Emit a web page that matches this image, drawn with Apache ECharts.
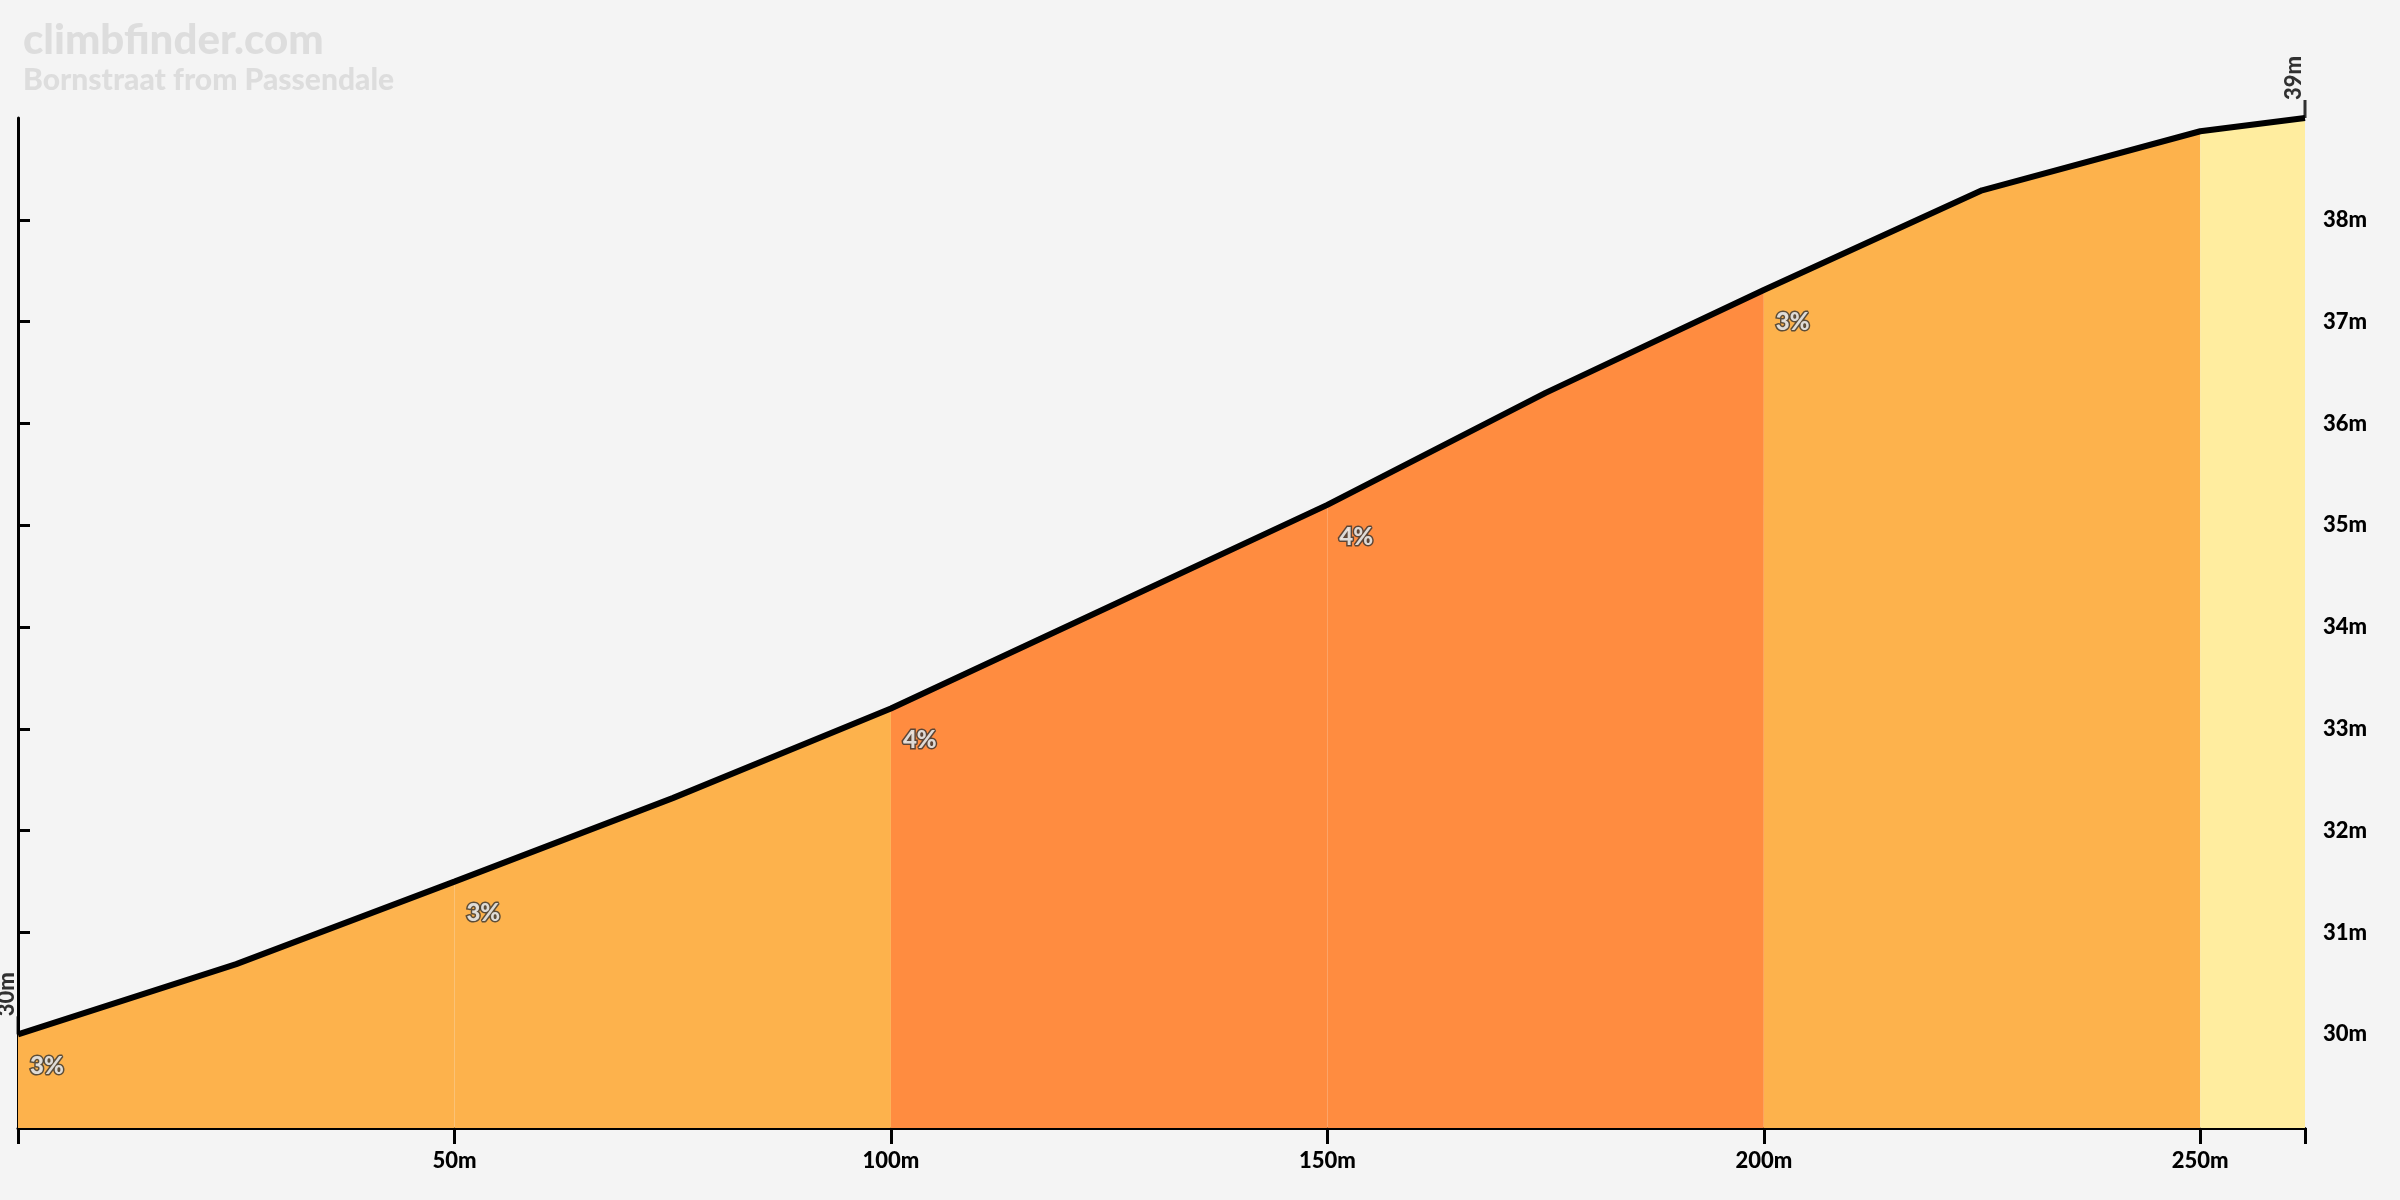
<!DOCTYPE html><html><head><meta charset="utf-8">
<script src="https://cdn.jsdelivr.net/npm/echarts@6/dist/echarts.min.js"></script>
<style>html,body{margin:0;background:#f4f4f4}#c{width:2400px;height:1200px}</style></head><body><div id="c"></div>
<script>
const distances=[0,25,50,75,100,125,150,175,200,225,250,262];
const elevations=[30.0,30.69,31.5,32.32,33.2,34.2,35.2,36.3,37.31,38.29,38.87,39.0];
const segStarts=[0,50,100,150,200,250];
const segEnds=[50,100,150,200,250,262];
const segGrades=['3%','3%','4%','4%','3%',''];
const segColors=['#FDB24C','#FDB24C','#FF8C40','#FF8C40','#FDB24C','#FFED9F'];
const yTicks=[30,31,32,33,34,35,36,37,38];
const xLabels=[50,100,150,200,250];
const pts=distances.map((d,i)=>[d,elevations[i]]);
const elevAt=d=>{const i=distances.indexOf(d);return elevations[i];};
const series=[];
segStarts.forEach((s,k)=>{
  series.push({type:'line',data:pts.filter(p=>p[0]>=s&&p[0]<=segEnds[k]),symbol:'none',
    lineStyle:{width:0},areaStyle:{color:segColors[k],opacity:1,origin:'start'},z:1,silent:true});
});
series.push({type:'line',data:pts,symbol:'none',lineStyle:{color:'#000',width:6},z:5});
series.push({type:'scatter',symbolSize:0,z:6,
  data:segStarts.map((s,k)=>({value:[s,elevAt(s)],label:{formatter:segGrades[k]}})),
  label:{show:true,position:[12,20],color:'#fff',fontSize:24,fontWeight:900,fontFamily:'Lato',textBorderColor:'#333',textBorderWidth:3}});
series.push({type:'scatter',symbol:'rect',symbolSize:[3,18],symbolOffset:[0,-9],itemStyle:{color:'#000'},z:7,
  data:[[distances[0],elevations[0]],[distances[distances.length-1],elevations[elevations.length-1]]],
  label:{show:true,rotate:90,position:'top',distance:22,formatter:p=>Math.round(p.value[1])+'m',color:'#000',fontSize:22,fontWeight:900,fontFamily:'Lato'}});
const chart=echarts.init(document.getElementById('c'));
chart.setOption({
  backgroundColor:'#f4f4f4',animation:false,
  title:{text:'climbfinder.com',subtext:'Bornstraat from Passendale',left:18,top:14,itemGap:4,
    textStyle:{color:'#dddddd',fontSize:42,fontWeight:900,fontFamily:'Lato'},
    subtextStyle:{color:'#dddddd',fontSize:30,fontWeight:900,fontFamily:'Lato'}},
  grid:{left:18,right:95,top:118,bottom:72,containLabel:false},
  xAxis:{type:'value',min:0,max:262,
    axisLine:{lineStyle:{color:'#000',width:3}},
    axisTick:{show:true,length:16,lineStyle:{color:'#000',width:3},customValues:[0,...xLabels,262]},
    axisLabel:{customValues:xLabels,formatter:v=>v+'m',color:'#000',fontSize:22,fontWeight:900,fontFamily:'Lato',margin:22},
    splitLine:{show:false}},
  yAxis:{type:'value',position:'right',min:29.08,max:39,
    axisLine:{show:true,lineStyle:{color:'#000',width:3}},
    axisTick:{show:true,length:12,lineStyle:{color:'#000',width:3},customValues:yTicks},
    axisLabel:{customValues:yTicks,formatter:v=>v+'m',color:'#000',fontSize:22,fontWeight:900,fontFamily:'Lato',margin:18},
    splitLine:{show:false}},
  series
});
</script></body></html>
